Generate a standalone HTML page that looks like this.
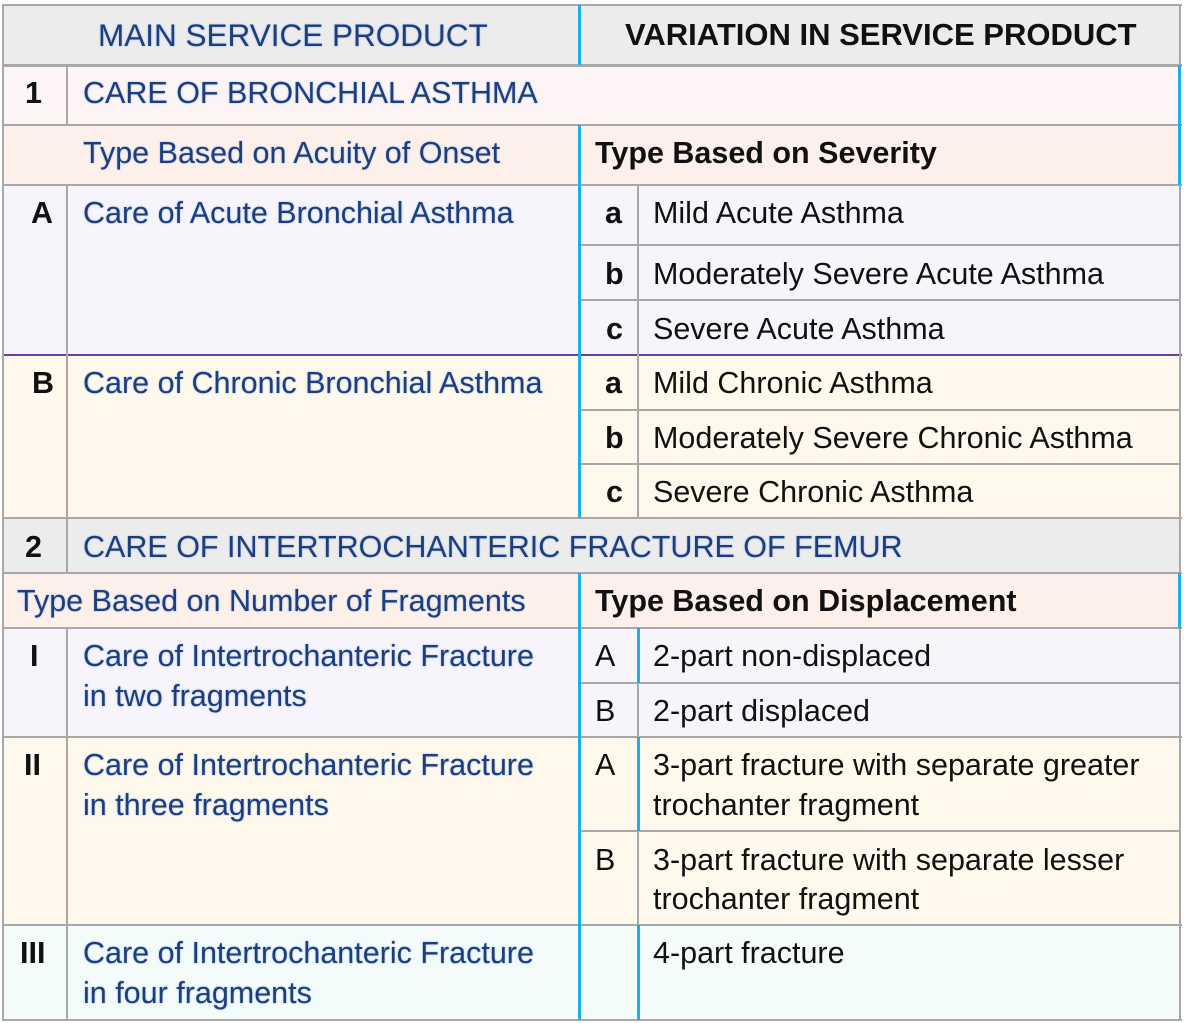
<!DOCTYPE html>
<html><head><meta charset="utf-8"><style>
body{margin:0;width:1184px;height:1023px;background:#fff;position:relative;overflow:hidden;font-family:"Liberation Sans",sans-serif}
.b{position:absolute}
.t{position:absolute;font-size:30.5px;line-height:40px;white-space:nowrap;color:#111}
.bl{color:#1f3d7a;text-shadow:0 0 2px #a9c8f0,0 0 1px #a9c8f0}
.bd{font-weight:bold}
.h{position:absolute;height:2px;background:#a8a8a8}
.v{position:absolute;width:2px;background:#a8a8a8}
.c{position:absolute;width:3px;background:#1ab0e8}
</style></head><body>
<div class="b" style="left:3px;top:5px;width:1177px;height:60px;background:#ececec"></div>
<div class="b" style="left:3px;top:65px;width:1177px;height:60px;background:#fdf5f5"></div>
<div class="b" style="left:3px;top:125px;width:1177px;height:60px;background:#fdf0ea"></div>
<div class="b" style="left:3px;top:185px;width:1177px;height:170px;background:#f7f4fb"></div>
<div class="b" style="left:3px;top:355px;width:1177px;height:163px;background:#fef9ec"></div>
<div class="b" style="left:3px;top:518px;width:1177px;height:55px;background:#ececec"></div>
<div class="b" style="left:3px;top:573px;width:1177px;height:55px;background:#fdf0ea"></div>
<div class="b" style="left:3px;top:628px;width:1177px;height:109px;background:#f7f4fb"></div>
<div class="b" style="left:3px;top:737px;width:1177px;height:188px;background:#fef9ec"></div>
<div class="b" style="left:3px;top:925px;width:1177px;height:95px;background:#f3fcfb"></div>
<div class="h" style="left:2px;top:4px;width:1180px"></div>
<div class="h" style="left:2px;top:64px;width:1180px;height:3px"></div>
<div class="h" style="left:2px;top:124px;width:1180px"></div>
<div class="h" style="left:2px;top:184px;width:1180px"></div>
<div class="h" style="left:580px;top:244px;width:600px"></div>
<div class="h" style="left:580px;top:299px;width:600px"></div>
<div class="b" style="left:2px;top:354px;width:1180px;height:2px;background:#6a3fa0"></div>
<div class="h" style="left:580px;top:409px;width:600px"></div>
<div class="h" style="left:580px;top:463px;width:600px"></div>
<div class="h" style="left:2px;top:517px;width:1180px"></div>
<div class="h" style="left:2px;top:572px;width:1180px"></div>
<div class="h" style="left:2px;top:627px;width:1180px"></div>
<div class="h" style="left:580px;top:682px;width:600px"></div>
<div class="h" style="left:2px;top:736px;width:1180px"></div>
<div class="h" style="left:580px;top:830px;width:600px"></div>
<div class="h" style="left:2px;top:924px;width:1180px"></div>
<div class="h" style="left:2px;top:1019px;width:1180px"></div>
<div class="v" style="left:2px;top:4px;height:1017px"></div>
<div class="v" style="left:1179px;top:4px;height:1017px"></div>
<div class="v" style="left:66px;top:65px;height:60px"></div>
<div class="v" style="left:66px;top:185px;height:333px"></div>
<div class="v" style="left:66px;top:518px;height:55px"></div>
<div class="v" style="left:66px;top:628px;height:392px"></div>
<div class="c" style="left:578px;top:5px;height:60px"></div>
<div class="c" style="left:578px;top:125px;height:393px"></div>
<div class="c" style="left:578px;top:573px;height:447px"></div>
<div class="v" style="left:637px;top:185px;height:333px"></div>
<div class="c" style="left:637px;top:628px;height:55px"></div>
<div class="v" style="left:637px;top:683px;height:54px"></div>
<div class="c" style="left:637px;top:737px;height:94px"></div>
<div class="v" style="left:637px;top:831px;height:94px"></div>
<div class="c" style="left:637px;top:925px;height:95px"></div>
<div class="c" style="left:1178px;top:573px;height:55px"></div>
<div class="c" style="left:1178px;top:65px;height:120px"></div>
<div class="t bl" style="left:98px;top:15px;font-size:31.5px">MAIN SERVICE PRODUCT</div>
<div class="t bd" style="left:625px;top:15px;font-size:31px">VARIATION IN SERVICE PRODUCT</div>
<div class="t bd" style="left:25px;top:73px">1</div>
<div class="t bl" style="left:83px;top:73px">CARE OF BRONCHIAL ASTHMA</div>
<div class="t bl" style="left:83px;top:133px">Type Based on Acuity of Onset</div>
<div class="t bd" style="left:595px;top:133px">Type Based on Severity</div>
<div class="t bd" style="left:31px;top:193px">A</div>
<div class="t bl" style="left:83px;top:193px">Care of Acute Bronchial Asthma</div>
<div class="t bd" style="left:605px;top:193px">a</div>
<div class="t" style="left:653px;top:193px">Mild Acute Asthma</div>
<div class="t bd" style="left:605px;top:254px">b</div>
<div class="t" style="left:653px;top:254px">Moderately Severe Acute Asthma</div>
<div class="t bd" style="left:606px;top:309px">c</div>
<div class="t" style="left:653px;top:309px">Severe Acute Asthma</div>
<div class="t bd" style="left:32px;top:363px">B</div>
<div class="t bl" style="left:83px;top:363px">Care of Chronic Bronchial Asthma</div>
<div class="t bd" style="left:605px;top:363px">a</div>
<div class="t" style="left:653px;top:363px">Mild Chronic Asthma</div>
<div class="t bd" style="left:605px;top:418px">b</div>
<div class="t" style="left:653px;top:418px">Moderately Severe Chronic Asthma</div>
<div class="t bd" style="left:606px;top:472px">c</div>
<div class="t" style="left:653px;top:472px">Severe Chronic Asthma</div>
<div class="t bd" style="left:25px;top:527px">2</div>
<div class="t bl" style="left:83px;top:527px">CARE OF INTERTROCHANTERIC FRACTURE OF FEMUR</div>
<div class="t bl" style="left:17px;top:581px">Type Based on Number of Fragments</div>
<div class="t bd" style="left:595px;top:581px">Type Based on Displacement</div>
<div class="t bd" style="left:30px;top:636px">I</div>
<div class="t bl" style="left:83px;top:636px">Care of Intertrochanteric Fracture</div>
<div class="t bl" style="left:83px;top:676px">in two fragments</div>
<div class="t" style="left:595px;top:636px">A</div>
<div class="t" style="left:653px;top:636px">2-part non-displaced</div>
<div class="t" style="left:595px;top:691px">B</div>
<div class="t" style="left:653px;top:691px">2-part displaced</div>
<div class="t bd" style="left:24px;top:745px">II</div>
<div class="t bl" style="left:83px;top:745px">Care of Intertrochanteric Fracture</div>
<div class="t bl" style="left:83px;top:785px">in three fragments</div>
<div class="t" style="left:595px;top:745px">A</div>
<div class="t" style="left:653px;top:745px">3-part fracture with separate greater</div>
<div class="t" style="left:653px;top:785px">trochanter fragment</div>
<div class="t" style="left:595px;top:840px">B</div>
<div class="t" style="left:653px;top:840px">3-part fracture with separate lesser</div>
<div class="t" style="left:653px;top:879px">trochanter fragment</div>
<div class="t bd" style="left:20px;top:933px">III</div>
<div class="t bl" style="left:83px;top:933px">Care of Intertrochanteric Fracture</div>
<div class="t bl" style="left:83px;top:973px">in four fragments</div>
<div class="t" style="left:653px;top:933px">4-part fracture</div>
</body></html>
